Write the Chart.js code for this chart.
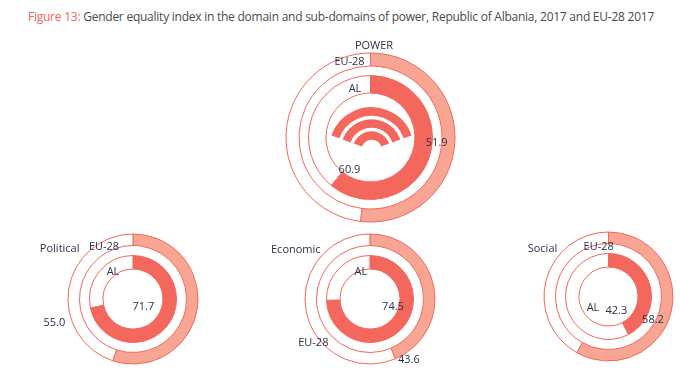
<!DOCTYPE html>
<html lang="en">
  <head>
    <meta charset="UTF-8" />
    <meta name="viewport" content="width=device-width, initial-scale=1.0" />
    <title>Gender equality index - power</title>

    <script src="https://cdn.jsdelivr.net/npm/chart.js"></script>
    <style>
      body {
        margin: 0;
        width: 680px;
        height: 378px;
        background: #fff;
        position: relative;
        overflow: hidden;
        font-family: "Open Sans", sans-serif;
      }
      .title {
        position: absolute;
        left: 28px;
        top: 8px;
        font-size: 12px;
        color: #4a4a4a;
        white-space: nowrap;
      }
      .title span {
        color: #f0645a;
      }
      canvas.ring {
        position: absolute;
      }
      .lbl {
        position: absolute;
        font-size: 11px;
        color: #2b3046;
        transform: translate(-50%, -50%);
        white-space: nowrap;
      }
    </style>
  </head>
  <body>
    <div class="title"><span>Figure 13:</span> Gender equality index in the domain and sub-domains of power, Republic of Albania, 2017 and EU-28 2017</div>

    <script>
      // values
      const domains = ["POWER", "Political", "Economic", "Social"];
      const seriesNames = ["AL", "EU-28"];
      const alValues = [60.9, 71.7, 74.5, 42.3];
      const euValues = [51.9, 55.0, 43.6, 58.2];

      const RED = "#f4675c";
      const SALMON = "#f9a594";
      const LINE = "#f0675c";

      // where each donut sits: centre, outer radius, ring thickness (px)
      const layout = [
        { cx: 370, cy: 137.5, r: 84.5, eu: 13, gap: 9.5, al: 17.5, hole: 44.5 },
        { cx: 132.5, cy: 298.5, r: 65, eu: 11.5, gap: 10, al: 13.5, hole: 30 },
        { cx: 370, cy: 298.5, r: 65, eu: 11.5, gap: 10, al: 13.5, hole: 30 },
        { cx: 608, cy: 296, r: 64.5, eu: 11.5, gap: 10, al: 13.5, hole: 29.5 },
      ];

      // label centres: name, EU-28, AL, AL value, EU value
      const labelPos = [
        [[374, 44], [349.5, 60], [355, 87], [349.5, 167.5], [436.7, 141]],
        [[59.7, 247], [104, 245], [113, 269.7], [143.3, 304.7], [54.3, 321]],
        [[295.8, 247.5], [313.3, 340.5], [360.8, 269.7], [393, 304.5], [408.8, 358.3]],
        [[542.5, 247], [598.7, 245], [593, 306.3], [616.3, 308.8], [653, 317.8]],
      ];

      // stretch the title to the width it has in the figure
      const title = document.querySelector(".title");
      const extra = 626 - title.getBoundingClientRect().width;
      title.style.letterSpacing = extra / title.textContent.length + "px";

      // the little "rainbow" icon in the middle of the POWER donut
      const powerIcon = {
        id: "powerIcon",
        afterDatasetsDraw(chart) {
          const ctx = chart.ctx;
          const a = chart.chartArea;
          const x = (a.left + a.right) / 2 + 1;
          const y = (a.top + a.bottom) / 2 + 12.5;
          const tilt = (20 * Math.PI) / 180;
          ctx.save();
          ctx.strokeStyle = RED;
          ctx.lineWidth = 8.5;
          ctx.lineCap = "butt";
          [38.5, 26.5, 14.5].forEach((rad) => {
            ctx.beginPath();
            ctx.arc(x, y, rad, Math.PI + tilt, 2 * Math.PI - tilt);
            ctx.stroke();
          });
          ctx.restore();
        },
      };

      function makeDonut(i) {
        const L = layout[i];
        const size = Math.ceil(L.r * 2 + 6);
        const cv = document.createElement("canvas");
        cv.className = "ring";
        cv.width = size;
        cv.height = size;
        cv.style.left = L.cx - size / 2 + "px";
        cv.style.top = L.cy - size / 2 + "px";
        document.body.appendChild(cv);

        new Chart(cv, {
          type: "doughnut",
          data: {
            labels: ["value", "rest"],
            datasets: [
              {
                label: seriesNames[1],
                data: [euValues[i], 100 - euValues[i]],
                backgroundColor: [SALMON, "#ffffff"],
                borderColor: LINE,
                borderWidth: 1,
                weight: L.eu,
              },
              {
                label: "gap",
                data: [100],
                backgroundColor: "rgba(0,0,0,0)",
                borderWidth: 0,
                weight: L.gap,
              },
              {
                label: seriesNames[0],
                data: [alValues[i], 100 - alValues[i]],
                backgroundColor: [RED, "#ffffff"],
                borderColor: LINE,
                borderWidth: 1,
                weight: L.al,
              },
            ],
          },
          options: {
            responsive: false,
            animation: false,
            events: [],
            radius: L.r,
            cutout: (L.hole / L.r) * 100 + "%",
            layout: { padding: 0 },
            plugins: {
              legend: { display: false },
              tooltip: { enabled: false },
            },
          },
          plugins: i === 0 ? [powerIcon] : [],
        });
      }

      function addLabel(text, pos) {
        const d = document.createElement("div");
        d.className = "lbl";
        d.textContent = text;
        d.style.left = pos[0] + "px";
        d.style.top = pos[1] + "px";
        document.body.appendChild(d);
      }

      domains.forEach((name, i) => {
        makeDonut(i);
        const p = labelPos[i];
        addLabel(name, p[0]);
        addLabel(seriesNames[1], p[1]);
        addLabel(seriesNames[0], p[2]);
        addLabel(alValues[i].toFixed(1), p[3]);
        addLabel(euValues[i].toFixed(1), p[4]);
      });
    </script>
  </body>
</html>
